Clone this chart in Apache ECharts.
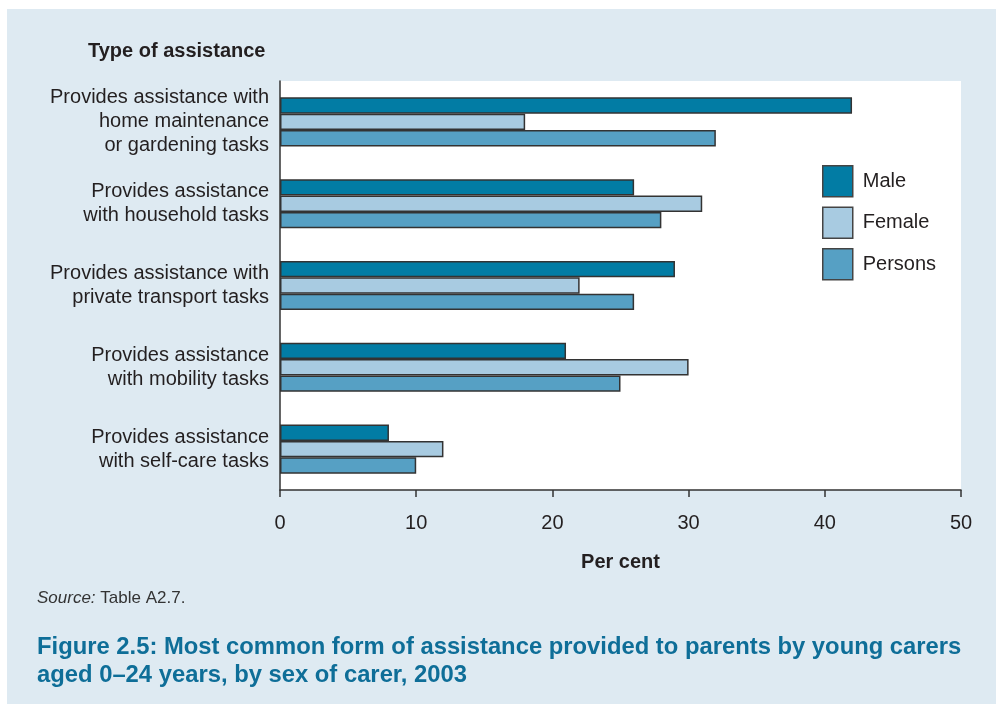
<!DOCTYPE html>
<html>
<head>
<meta charset="utf-8">
<script src="https://cdn.jsdelivr.net/npm/echarts@6/dist/echarts.min.js"></script>
<style>
html,body{margin:0;padding:0;background:#fff;}
#chart{width:996px;height:704px;}
</style>
</head>
<body>
<div id="chart"></div>
<script>
const categories = [
  "Provides assistance with\nhome maintenance\nor gardening tasks",
  "Provides assistance\nwith household tasks",
  "Provides assistance with\nprivate transport tasks",
  "Provides assistance\nwith mobility tasks",
  "Provides assistance\nwith self-care tasks"
];
const seriesNames = ["Male", "Female", "Persons"];
const maleValues = [42, 26, 29, 21, 8];
const femaleValues = [18, 31, 22, 30, 12];
const personsValues = [32, 28, 26, 25, 10];
const xTicks = [0, 10, 20, 30, 40, 50];

const FONT = "'Liberation Sans', Arial, Helvetica, sans-serif";
const colors = ["#027CA4", "#A8CBE1", "#56A0C4"];
const valuesList = [maleValues, femaleValues, personsValues];

const chart = echarts.init(document.getElementById('chart'), null, {renderer: 'canvas'});
const option = {
  backgroundColor: '#ffffff',
  animation: false,
  textStyle: {fontFamily: FONT},
  graphic: [
    {type: 'rect', z: -10, silent: true, shape: {x: 7, y: 9, width: 989, height: 695}, style: {fill: '#DEEAF2'}},
    {type: 'text', left: 37, top: 590, style: {
      text: '{i|Source:} Table A2.7.',
      rich: {i: {fontStyle: 'italic', fontSize: 17, fill: '#333', fontFamily: FONT}},
      fontSize: 17, fill: '#333', fontFamily: FONT}},
    {type: 'text', left: 37, top: 633, style: {
      text: 'Figure 2.5: Most common form of assistance provided to parents by young carers\naged 0\u201324 years, by sex of carer, 2003',
      fontSize: 23.8, fontWeight: 'bold', fill: '#0E6E98', lineHeight: 28, fontFamily: FONT}}
  ],
  title: {
    text: 'Type of assistance', left: 88, top: 41, padding: 0,
    textStyle: {fontSize: 20, fontWeight: 'bold', color: '#231F20', fontFamily: FONT}
  },
  legend: {
    orient: 'vertical', left: 822, top: 165, padding: 0, itemWidth: 30, itemHeight: 31, itemGap: 9,
    icon: 'rect',
    data: seriesNames,
    textStyle: {fontSize: 20, color: '#231F20', padding: [0, 0, 0, 5], fontFamily: FONT},
    itemStyle: {borderColor: '#444', borderWidth: 1.5}
  },
  grid: {
    left: 280, right: 35, top: 81, bottom: 214,
    show: true, backgroundColor: '#ffffff', borderWidth: 0
  },
  xAxis: {
    type: 'value', min: xTicks[0], max: xTicks[xTicks.length - 1], interval: 10,
    name: 'Per cent', nameLocation: 'middle', nameGap: 62,
    nameTextStyle: {fontSize: 20, fontWeight: 'bold', color: '#231F20', fontFamily: FONT},
    axisLine: {show: true, lineStyle: {color: '#333', width: 1.5}},
    axisTick: {show: true, length: 7, lineStyle: {color: '#333', width: 1.5}},
    axisLabel: {fontSize: 20, color: '#231F20', margin: 23, fontFamily: FONT},
    splitLine: {show: false}
  },
  yAxis: {
    type: 'category', data: categories, inverse: true,
    axisLine: {show: true, lineStyle: {color: '#333', width: 1.5}},
    axisTick: {show: false},
    axisLabel: {fontSize: 20, color: '#231F20', margin: 11, lineHeight: 24, align: 'right', fontFamily: FONT}
  },
  series: seriesNames.map((name, i) => ({
    name: name, type: 'bar', data: valuesList[i],
    barGap: '0%', barCategoryGap: '40%',
    itemStyle: {color: colors[i], borderColor: '#333', borderWidth: 1.5}
  }))
};
chart.setOption(option);
</script>
</body>
</html>
